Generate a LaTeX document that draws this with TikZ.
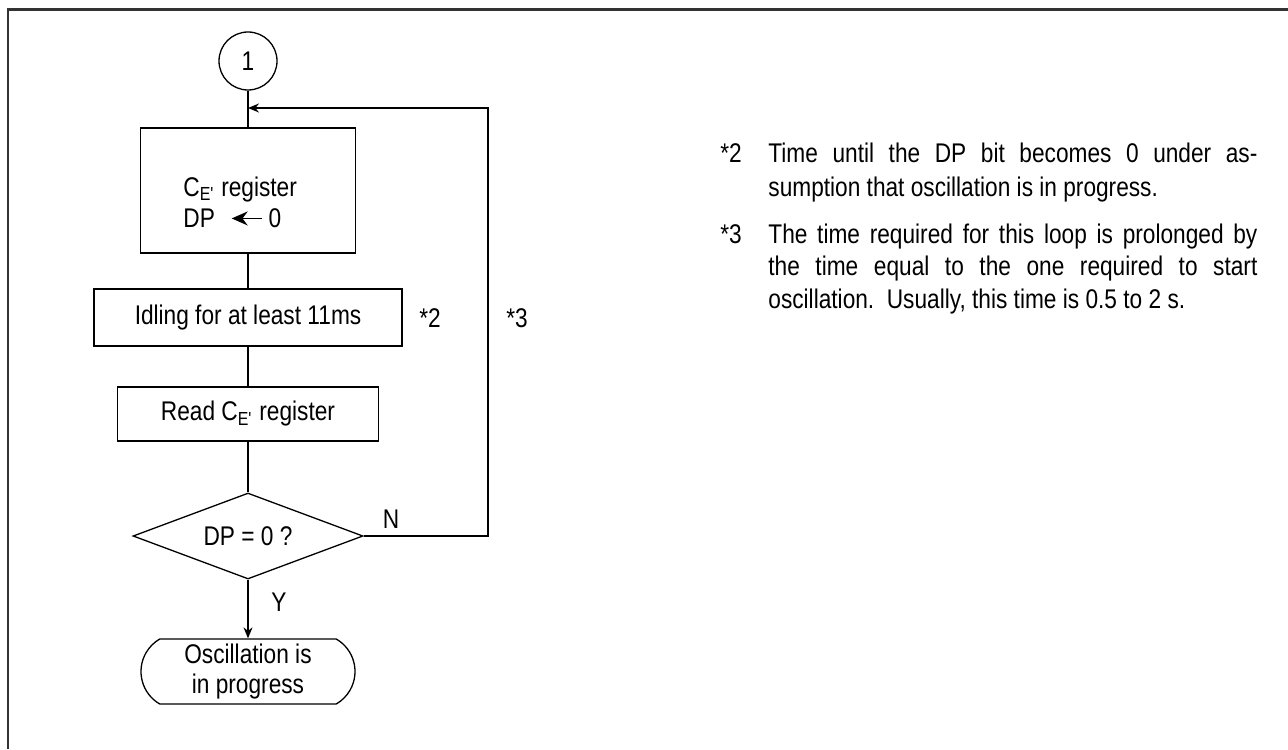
\documentclass[tikz,border=0pt]{standalone}
\usepackage{fontspec}
\setmainfont{Liberation Sans}[FakeStretch=0.84]
\usetikzlibrary{arrows.meta,positioning,shapes.geometric,shapes.misc}
\newcommand{\regCE}{C\textsubscript{E\textquotesingle}}
\newcommand{\getarrow}{\tikz[baseline=-0.6ex]\draw[line width=0.8pt,{Stealth[length=8pt,width=7pt]}-] (0pt,0pt) -- (15pt,0pt);}
\newlength{\notew}\setlength{\notew}{244.5pt}

\begin{document}
\begin{tikzpicture}[x=0.5pt, y=-0.5pt, >={Stealth[length=5.5pt,width=4.5pt]},
  every node/.style={font=\fontsize{13.5}{15}\selectfont},
  flow/.style={draw, line width=0.65pt, inner sep=0pt},
  box/.style={flow, rectangle},
  line/.style={line width=0.65pt},
  noteline/.style={anchor=base west, inner sep=0pt}]
  \useasboundingbox (0,0) rectangle (1288,749);

  % frame
  \draw[line width=1.3pt, black!80] (8,749) -- (8,9.5) -- (1288,9.5);

  % flow chart
  \node[flow, circle, minimum size=29pt] (start) at (248,61) {1};
  \coordinate (join) at (248,108);
  \node[box, minimum width=107.5pt, minimum height=62.5pt] (set) at (248,190.5) {};
  \node[noteline] (cereg) at (183,196) {\regCE{} register};
  \node[noteline] (dpset) at (183,227) {DP\hspace{8pt}\getarrow\hspace{3pt}0};
  \node[box, minimum width=154pt, minimum height=28.5pt] (idle) at (248,317.5) {Idling for at least 11ms};
  \node[box, minimum width=130.5pt, minimum height=27pt] (read) at (248,414) {Read \regCE{} register};
  \node[flow, diamond, aspect=2.67, minimum width=115pt, minimum height=43pt] (test) at (248,536) {DP = 0 ?};
  \node[flow, rounded rectangle, rounded rectangle arc length=120,
    minimum width=107pt, minimum height=32.5pt] (stop) at (248,671.5) {};
  \node[align=center, inner sep=0pt] (stoptxt) at (248,672) {Oscillation is\\in progress};
  \coordinate (loopc) at (488,108);

  % connectors
  \draw[line] (start) -- (set);
  \draw[line] (set) -- (idle);
  \draw[line] (idle) -- (read);
  \draw[line] (read) -- (test);
  \draw[line, ->] (test) -- (stop);
  \draw[line, ->] (test.east) -| (loopc) -- (join);

  % labels
  \node (nlbl) at (391,519) {N};
  \node (ylbl) at (279,602) {Y};
  \node (mark2) at (430,318) {*2};
  \node (mark3) at (517,318) {*3};

  % notes
  \node[noteline] (n2num) at (720,162) {*2};
  \node[noteline] (n2a) at (768,162)
    {\makebox[\notew][s]{Time until the DP bit becomes 0 under as-}};
  \node[noteline] (n2b) at (768,196) {sumption that oscillation is in progress.};
  \node[noteline] (n3num) at (720,243) {*3};
  \node[noteline] (n3a) at (768,243)
    {\makebox[\notew][s]{The time required for this loop is prolonged by}};
  \node[noteline] (n3b) at (768,275)
    {\makebox[\notew][s]{the time equal to the one required to start}};
  \node[noteline] (n3c) at (768,308) {oscillation.\ \ Usually, this time is 0.5 to 2 s.};
\end{tikzpicture}
\end{document}
